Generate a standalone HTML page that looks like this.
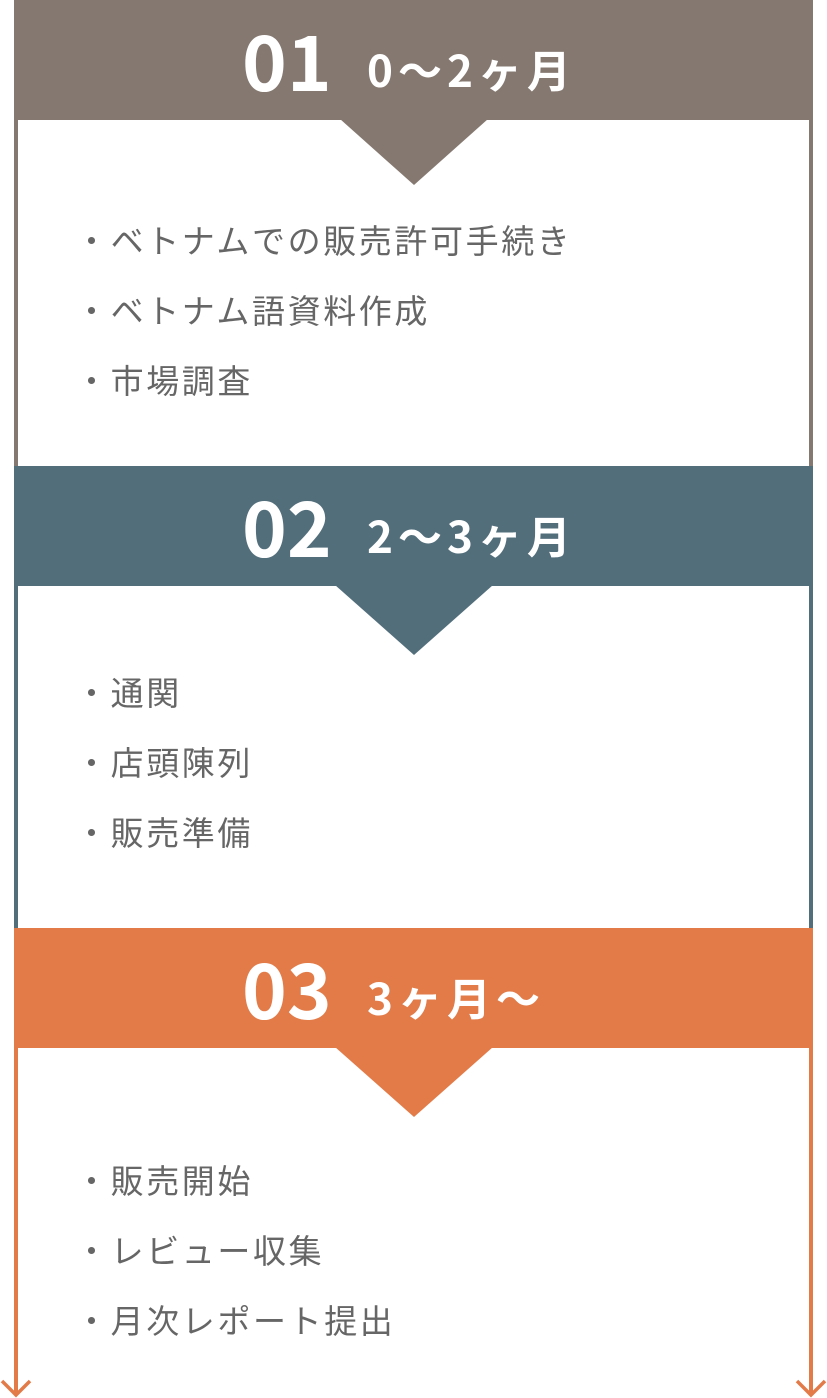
<!DOCTYPE html>
<html><head><meta charset="utf-8"><style>
body{margin:0;width:827px;height:1398px;position:relative;background:#fff;font-family:"Noto Sans CJK JP",sans-serif;overflow:hidden}
.h{position:absolute;left:14px;width:799px;height:120px}
.h .n{position:absolute;left:228px;top:8px;font-size:76px;font-weight:bold;color:#fff;line-height:100px}
.h .p{position:absolute;left:353px;top:18px;font-size:44px;font-weight:bold;color:#fff;line-height:100px;letter-spacing:5px}
.l{position:absolute;width:4px}
.b{position:absolute;left:75px;font-size:33px;color:#666;line-height:40px;letter-spacing:2.6px}
</style></head><body>
<div class="h" style="top:0;background:#857870"><span class="n">01</span><span class="p">0〜2ヶ月</span></div>
<div class="h" style="top:466px;background:#526e7b"><span class="n">02</span><span class="p">2〜3ヶ月</span></div>
<div class="h" style="top:928px;background:#e27b48"><span class="n">03</span><span class="p">3ヶ月〜</span></div>
<div class="l" style="left:14px;top:120px;height:346px;background:#857870"></div>
<div class="l" style="left:809px;top:120px;height:346px;background:#857870"></div>
<div class="l" style="left:14px;top:586px;height:342px;background:#526e7b"></div>
<div class="l" style="left:809px;top:586px;height:342px;background:#526e7b"></div>
<svg width="827" height="1398" style="position:absolute;left:0;top:0">
<polygon points="340,119 488,119 414,185" fill="#857870"/>
<polygon points="335,585 493,585 414,655" fill="#526e7b"/>
<polygon points="335,1047 493,1047 414,1117" fill="#e27b48"/>
<line x1="16" y1="1048" x2="16" y2="1395" stroke="#e27b48" stroke-width="4"/>
<line x1="811" y1="1048" x2="811" y2="1395" stroke="#e27b48" stroke-width="4"/>
<polyline points="2,1381 16,1395 30,1381" fill="none" stroke="#e27b48" stroke-width="3.5"/>
<polyline points="797,1381 811,1395 825,1381" fill="none" stroke="#e27b48" stroke-width="3.5"/>
</svg>
<div class="b" style="top:219px">・ベトナムでの販売許可手続き</div>
<div class="b" style="top:289px">・ベトナム語資料作成</div>
<div class="b" style="top:359px">・市場調査</div>
<div class="b" style="top:671px">・通関</div>
<div class="b" style="top:741px">・店頭陳列</div>
<div class="b" style="top:811px">・販売準備</div>
<div class="b" style="top:1159px">・販売開始</div>
<div class="b" style="top:1229px">・レビュー収集</div>
<div class="b" style="top:1299px">・月次レポート提出</div>
</body></html>
